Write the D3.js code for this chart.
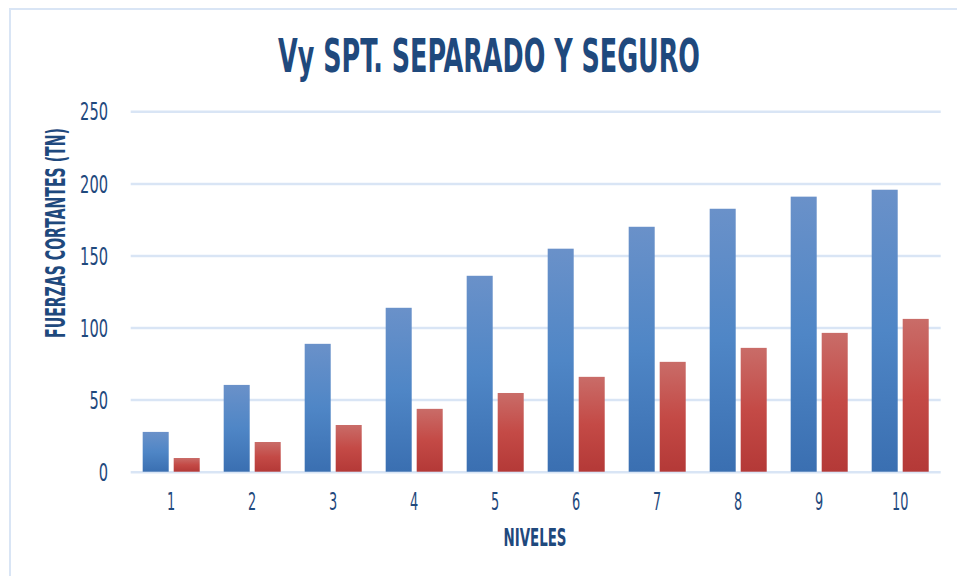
<!DOCTYPE html>
<html>
<head>
<meta charset="utf-8">
<script src="https://cdn.jsdelivr.net/npm/d3@7"></script>
<style>
  body { margin: 0; background: #fff; }
  svg { display: block; }
  text { font-family: "DejaVu Sans Condensed", "DejaVu Sans", sans-serif; fill: #1f497d; }
</style>
</head>
<body>
<div id="chart"></div>
<script>
// data
const niveles = ["1", "2", "3", "4", "5", "6", "7", "8", "9", "10"];
const serieAzul = [27.6, 60.2, 88.7, 113.7, 135.9, 154.7, 169.9, 182.4, 190.8, 195.6];
const serieRoja = [9.5, 20.6, 32.4, 43.6, 54.6, 65.8, 76.2, 85.9, 96.3, 106.0];
const yTicks = [0, 50, 100, 150, 200, 250];

let w = 957;
let h = 576;

let svg = d3.select("#chart").append("svg")
  .attr("width", w)
  .attr("height", h);

// gradients like the office bars
let defs = svg.append("defs");
function grad(id, c1, c2, c3) {
  let g = defs.append("linearGradient").attr("id", id)
    .attr("x1", 0).attr("y1", 0).attr("x2", 0).attr("y2", 1);
  g.append("stop").attr("offset", "0%").attr("stop-color", c1);
  g.append("stop").attr("offset", "50%").attr("stop-color", c2);
  g.append("stop").attr("offset", "100%").attr("stop-color", c3);
}
grad("gAzul", "#6a91c9", "#4f86c6", "#3a6fb1");
grad("gRoja", "#c96c68", "#c44a46", "#b43937");

// squeeze a text horizontally so it looks like the narrow office font
function narrowText(txt, width, pre) {
  let node = txt.node();
  let k = width / node.getComputedTextLength();
  txt.attr("transform", pre + " scale(" + k + ",1)");
}

// chart frame
svg.append("rect")
  .attr("x", 10).attr("y", 9)
  .attr("width", 980).attr("height", 600)
  .attr("fill", "none")
  .attr("stroke", "#d9e5f5")
  .attr("stroke-width", 2);

const pLeft = 130.7, pRight = 940.7, pTop = 111.3, pBottom = 471.7;

let y = d3.scaleLinear().domain([0, 250]).range([pBottom, pTop]);
let x = d3.scaleBand().domain(niveles).range([pLeft, pRight])
  .paddingInner(0.296).paddingOuter(0.148);
let xs = d3.scaleBand().domain(["azul", "roja"]).range([0, x.bandwidth()])
  .paddingInner(0.161);

// gridlines
let grid = svg.append("g")
  .attr("transform", "translate(" + pLeft + ",0)")
  .call(d3.axisLeft(y).tickValues(yTicks).tickSize(-(pRight - pLeft)).tickFormat(""));
grid.select(".domain").remove();
grid.selectAll("line").attr("stroke", "#d9e5f5").attr("stroke-width", 2.5);

// y tick labels
let yAxis = svg.append("g")
  .attr("transform", "translate(108,0)")
  .call(d3.axisLeft(y).tickValues(yTicks).tickSize(0).tickPadding(0));
yAxis.select(".domain").remove();
yAxis.selectAll("text")
  .attr("font-size", 24)
  .attr("dy", "0.36em")
  .attr("fill", "#1f497d")
  .attr("textLength", d => String(d).length * 9.3)
  .attr("lengthAdjust", "spacingAndGlyphs");

// bars
let groups = svg.selectAll(".nivel")
  .data(niveles)
  .enter()
  .append("g")
  .attr("class", "nivel")
  .attr("transform", d => "translate(" + x(d) + ",0)");

groups.append("rect")
  .attr("x", xs("azul"))
  .attr("width", xs.bandwidth())
  .attr("y", (d, i) => y(serieAzul[i]))
  .attr("height", (d, i) => y(0) - y(serieAzul[i]))
  .attr("fill", "url(#gAzul)");

groups.append("rect")
  .attr("x", xs("roja"))
  .attr("width", xs.bandwidth())
  .attr("y", (d, i) => y(serieRoja[i]))
  .attr("height", (d, i) => y(0) - y(serieRoja[i]))
  .attr("fill", "url(#gRoja)");

// x axis labels
let xAxis = svg.append("g")
  .attr("transform", "translate(0," + pBottom + ")")
  .call(d3.axisBottom(x).tickSize(0).tickPadding(0));
xAxis.select(".domain").remove();
xAxis.selectAll("text")
  .attr("font-size", 24)
  .attr("y", 38)
  .attr("dy", 0)
  .attr("fill", "#1f497d")
  .attr("textLength", d => d.length * 8.2)
  .attr("lengthAdjust", "spacingAndGlyphs");

// titles
let title = svg.append("text")
  .attr("text-anchor", "middle")
  .attr("font-size", 47)
  .attr("font-weight", "bold")
  .text("Vy SPT. SEPARADO Y SEGURO");
narrowText(title, 422, "translate(489,72)");

let xTitle = svg.append("text")
  .attr("text-anchor", "middle")
  .attr("font-size", 25)
  .attr("font-weight", "bold")
  .text("NIVELES");
narrowText(xTitle, 63, "translate(535,546)");

let yTitle = svg.append("text")
  .attr("text-anchor", "middle")
  .attr("font-size", 27)
  .attr("font-weight", "bold")
  .text("FUERZAS CORTANTES (TN)");
narrowText(yTitle, 210, "translate(65,233) rotate(-90)");
</script>
</body>
</html>
